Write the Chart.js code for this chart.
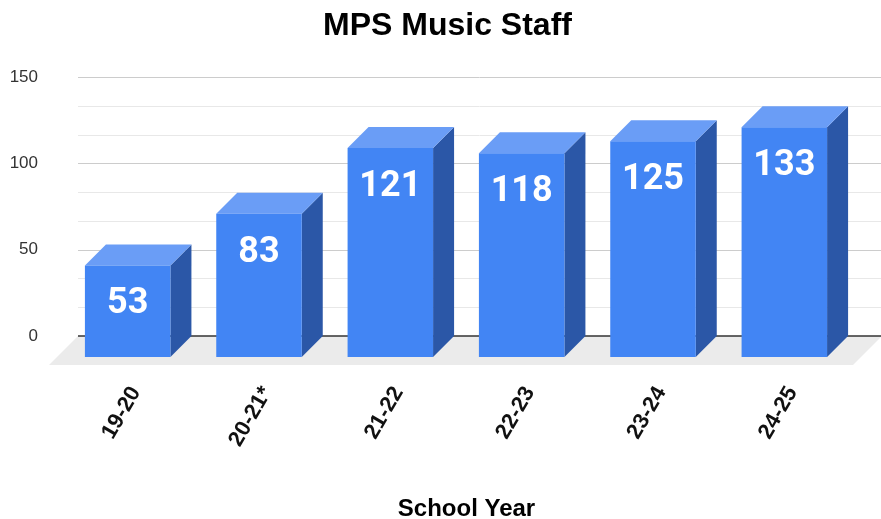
<!DOCTYPE html>
<html>
<head>
<meta charset="utf-8">
<title>MPS Music Staff</title>
<script src="https://cdn.jsdelivr.net/npm/chart.js"></script>
<style>
  body { margin: 0; background: #fff; }
  #wrap { width: 881px; height: 519px; }
</style>
</head>
<body>
<div id="wrap"><canvas id="grafica" width="881" height="519"></canvas></div>
<script>
// datos
const categorias = ['19-20', '20-21*', '21-22', '22-23', '23-24', '24-25'];
const personal = [53, 83, 121, 118, 125, 133];
const yTicks = [0, 50, 100, 150];
const pasoMenor = 50 / 3;

const FONT = "'Liberation Sans', Arial, sans-serif";
const PROF = 21; // profundidad del efecto 3D

// Caras laterales, suelo, cuadricula y textos
const caja3d = {
  id: 'caja3d',
  beforeDatasetsDraw(chart) {
    const { ctx, chartArea: a, scales: { y } } = chart;
    const y0 = y.getPixelForValue(0);
    const izq = a.left - 5, der = a.right + 10;
    ctx.save();
    // suelo
    ctx.fillStyle = '#ebebeb';
    ctx.beginPath();
    ctx.moveTo(izq, y0);
    ctx.lineTo(der + 1, y0);
    ctx.lineTo(der + 1 - 29, y0 + 29);
    ctx.lineTo(izq - 29, y0 + 29);
    ctx.closePath();
    ctx.fill();
    // cuadricula
    const n = Math.round(yTicks[yTicks.length - 1] / pasoMenor);
    for (let i = 1; i <= n; i++) {
      const py = Math.round(y.getPixelForValue(i * pasoMenor)) + 0.5;
      ctx.strokeStyle = i % 3 === 0 ? '#cccccc' : '#e8e8e8';
      ctx.lineWidth = 1;
      ctx.beginPath();
      ctx.moveTo(izq, py);
      ctx.lineTo(der, py);
      ctx.stroke();
    }
    ctx.strokeStyle = '#333';
    ctx.lineWidth = 1.5;
    ctx.beginPath();
    ctx.moveTo(izq, y0);
    ctx.lineTo(der, y0);
    ctx.stroke();
    // caras de arriba y del lado
    chart.getDatasetMeta(0).data.forEach(bar => {
      const { x, y: top, base, width } = bar.getProps(['x', 'y', 'base', 'width'], true);
      const l = x - width / 2, r = x + width / 2;
      ctx.fillStyle = '#2b57a7';
      ctx.beginPath();
      ctx.moveTo(r - PROF, top + PROF);
      ctx.lineTo(r, top);
      ctx.lineTo(r, base);
      ctx.lineTo(r - PROF, base + PROF);
      ctx.closePath();
      ctx.fill();
      ctx.fillStyle = '#6a9df6';
      ctx.beginPath();
      ctx.moveTo(l - PROF, top + PROF);
      ctx.lineTo(l, top);
      ctx.lineTo(r, top);
      ctx.lineTo(r - PROF, top + PROF);
      ctx.closePath();
      ctx.fill();
    });
    ctx.restore();
  },
  beforeDatasetDraw(chart) {
    chart.ctx.save();
    chart.ctx.translate(-PROF, PROF);
  },
  afterDatasetDraw(chart) {
    chart.ctx.restore();
  },
  afterDatasetsDraw(chart) {
    const { ctx } = chart;
    ctx.save();
    ctx.fillStyle = '#fff';
    ctx.font = "bold 36px Roboto, 'Liberation Sans', sans-serif";
    ctx.textAlign = 'center';
    ctx.textBaseline = 'middle';
    chart.getDatasetMeta(0).data.forEach((bar, i) => {
      const { x, y } = bar.getProps(['x', 'y'], true);
      ctx.fillText(String(personal[i]), x - PROF, y + PROF + 39);
    });
    // titulos
    ctx.fillStyle = '#000';
    ctx.textBaseline = 'alphabetic';
    ctx.font = 'bold 32px ' + FONT;
    ctx.fillText('MPS Music Staff', 447.5, 35);
    ctx.font = 'bold 24px ' + FONT;
    ctx.fillText('School Year', 466.5, 516);
    ctx.restore();
  }
};

new Chart(document.getElementById('grafica'), {
  type: 'bar',
  data: {
    labels: categorias,
    datasets: [{
      data: personal,
      backgroundColor: '#4285f4',
      borderWidth: 0,
      barPercentage: 0.651,
      categoryPercentage: 1,
      clip: false
    }]
  },
  options: {
    responsive: false,
    animation: false,
    devicePixelRatio: 1,
    layout: { padding: { left: 0, right: 10, top: 77, bottom: 0 } },
    plugins: {
      legend: { display: false },
      tooltip: { enabled: false },
      title: { display: false }
    },
    scales: {
      x: {
        grid: { display: false, drawTicks: false },
        border: { display: false },
        ticks: {
          color: '#111',
          font: { family: FONT, size: 22, weight: 'bold' },
          minRotation: 60,
          maxRotation: 60,
          padding: 46,
          labelOffset: -13,
          autoSkip: false
        },
        afterFit: s => { s.height = 183; }
      },
      y: {
        min: 0,
        max: 150,
        grid: { display: false, drawTicks: false },
        border: { display: false },
        afterBuildTicks: s => { s.ticks = yTicks.map(v => ({ value: v })); },
        ticks: {
          color: '#333',
          font: { family: FONT, size: 17 },
          padding: 45
        },
        afterFit: s => { s.width = 83; }
      }
    }
  },
  plugins: [caja3d]
});
</script>
</body>
</html>
